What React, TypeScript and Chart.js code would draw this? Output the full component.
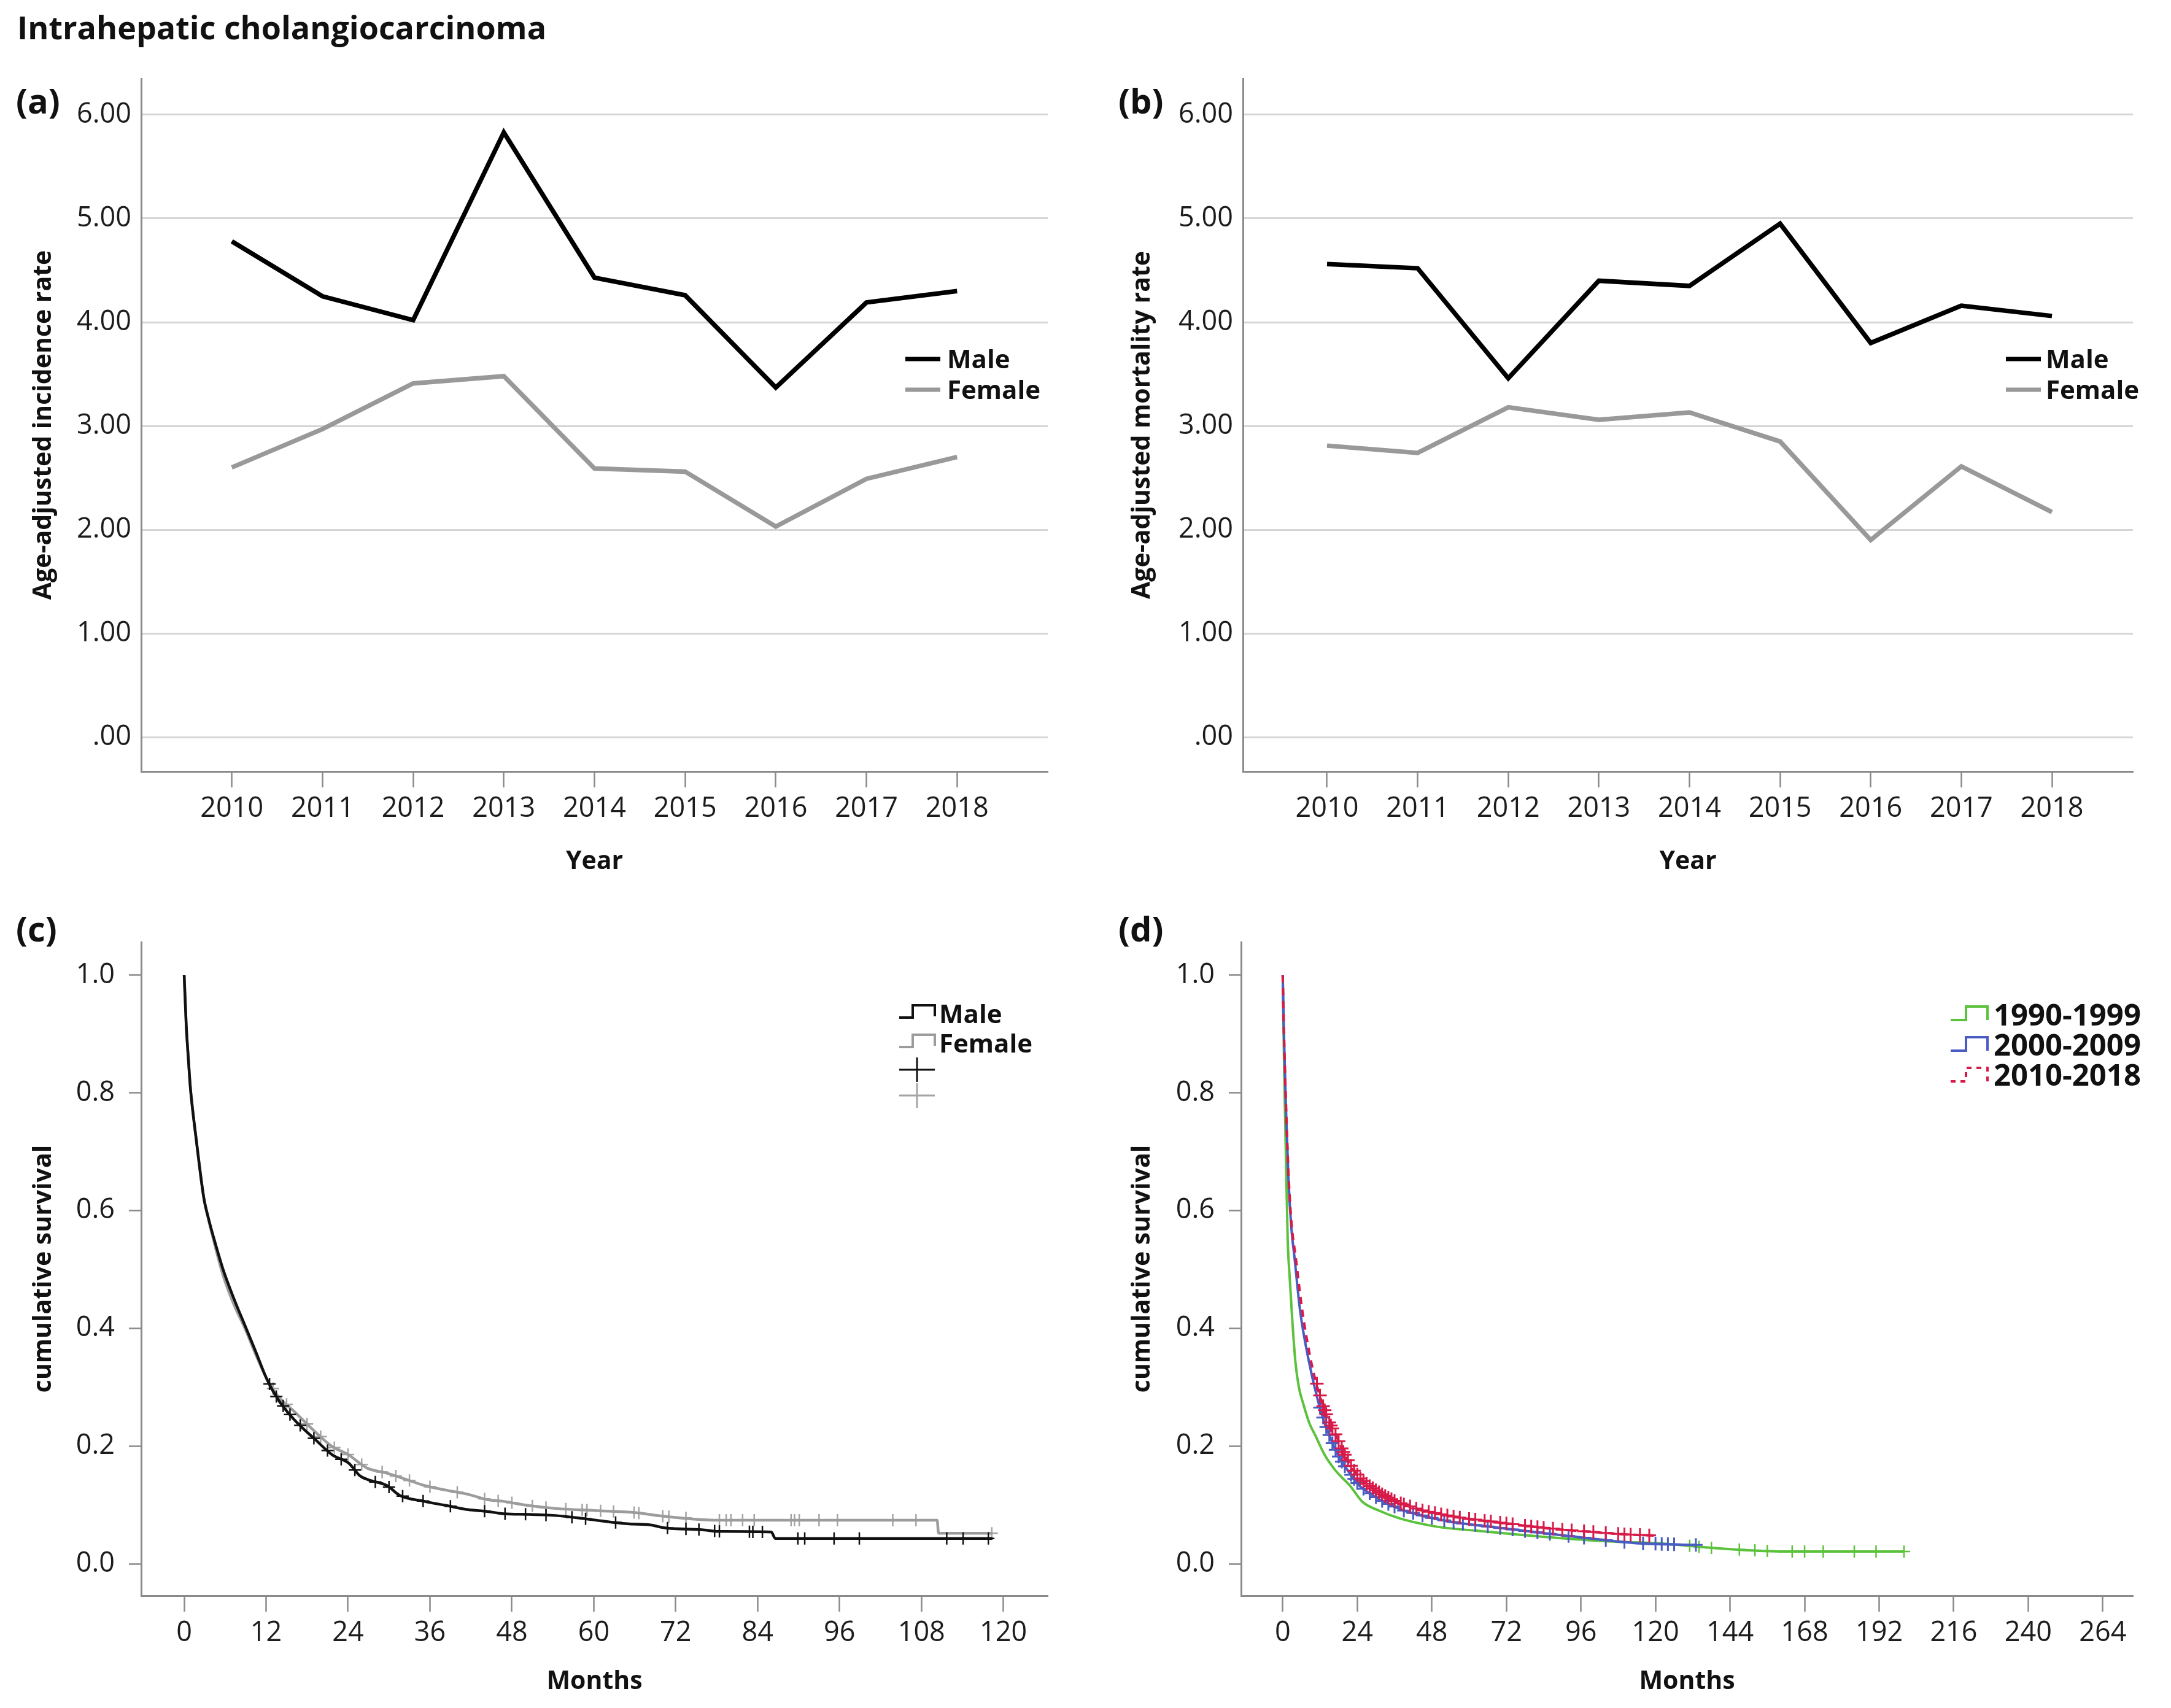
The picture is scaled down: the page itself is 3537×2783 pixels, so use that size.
import React, { useEffect, useRef } from 'react';
import { Chart, registerables } from 'chart.js';

Chart.register(...registerables);

const FONT = '"Open Sans", "DejaVu Sans", sans-serif';
const AXIS_GRAY = '#8a8a8a';
const TEXT = '#1c1c1c';

// ---------- panels (a) / (b) ----------
const YEARS = [2010, 2011, 2012, 2013, 2014, 2015, 2016, 2017, 2018];
const INCIDENCE_MALE = [4.78, 4.25, 4.02, 5.83, 4.43, 4.26, 3.37, 4.19, 4.30];
const INCIDENCE_FEMALE = [2.60, 2.97, 3.41, 3.48, 2.59, 2.56, 2.03, 2.49, 2.70];
const MORTALITY_MALE = [4.56, 4.52, 3.46, 4.40, 4.35, 4.95, 3.80, 4.16, 4.06];
const MORTALITY_FEMALE = [2.81, 2.74, 3.18, 3.06, 3.13, 2.85, 1.90, 2.61, 2.17];
const RATE_TICKS = [0, 1, 2, 3, 4, 5, 6];

// ---------- panel (c) : by sex ----------
const SEX_MONTH_TICKS = [0, 12, 24, 36, 48, 60, 72, 84, 96, 108, 120];
const MALE_KM_T = [0, 0.3, 0.6, 0.9, 1.3, 1.7, 2.3, 2.9, 3.6, 4.3, 5.7, 7.3, 8.9, 10.5, 12.1, 13.7, 16.1, 19.3, 21.7, 24.1, 25.7, 26.9, 29.7, 31.6, 35.2, 38.4, 41.6, 44.4, 46.8, 50.4, 54.4, 58.4, 61, 64.9, 68.3, 70.4, 75.8, 78.3, 86.0, 86.6, 118.4];
const MALE_KM_S = [1.0, 0.915, 0.86, 0.81, 0.765, 0.727, 0.67, 0.62, 0.585, 0.555, 0.5, 0.45, 0.405, 0.36, 0.314, 0.28, 0.245, 0.21, 0.185, 0.171, 0.15, 0.143, 0.133, 0.116, 0.106, 0.099, 0.092, 0.089, 0.085, 0.084, 0.082, 0.077, 0.073, 0.068, 0.066, 0.061, 0.058, 0.055, 0.054, 0.043, 0.043];
const FEMALE_KM_T = [0, 0.3, 0.6, 0.9, 1.3, 1.7, 2.3, 2.9, 3.6, 4.3, 5.7, 7.3, 8.9, 10.5, 12.1, 13.7, 16.1, 19.3, 21.7, 24.1, 25.7, 26.9, 29.7, 31.6, 35.2, 38.4, 41.6, 44.4, 46.8, 50.4, 54.4, 61, 66, 70, 78.3, 110.3, 110.5, 118.4];
const FEMALE_KM_S = [1.0, 0.915, 0.86, 0.81, 0.765, 0.727, 0.67, 0.62, 0.583, 0.55, 0.49, 0.44, 0.4, 0.355, 0.314, 0.285, 0.259, 0.223, 0.199, 0.185, 0.171, 0.162, 0.154, 0.147, 0.133, 0.125, 0.118, 0.109, 0.106, 0.099, 0.094, 0.09, 0.087, 0.081, 0.074, 0.074, 0.052, 0.052];
const MALE_CENSOR_T = [12.5, 13.5, 14.5, 15.5, 17, 19, 21, 23, 25, 28, 30, 32, 35, 39, 44, 47, 50, 53, 56.8, 58.8, 63.2, 70.8, 73.5, 75.4, 77.7, 78.4, 82.8, 83.3, 84.7, 89.9, 90.9, 95.2, 98.9, 111.7, 114.1, 117.8];
const FEMALE_CENSOR_T = [13, 15, 18, 20, 22, 24, 26, 29, 31, 33, 36, 40, 44, 46, 48, 51, 53, 55.9, 58.3, 59, 61, 62.9, 65.9, 66.6, 70.1, 71, 73.5, 78.4, 79.4, 80.1, 81.8, 83.5, 88.9, 89.4, 90.1, 93, 95.7, 103.8, 107.2, 118.3];

// ---------- panel (d) : by period ----------
const PERIOD_MONTH_TICKS = [0, 24, 48, 72, 96, 120, 144, 168, 192, 216, 240, 264];
const P1990_T = [0, 0.4, 1.0, 1.6, 2.2, 3.1, 4.1, 5.2, 6.6, 8.5, 10.6, 13.5, 16.6, 19, 21.6, 25.7, 30.7, 37.7, 49.7, 62.7, 85.8, 104.8, 120.8, 140.8, 160, 200];
const P1990_S = [1.0, 0.86, 0.7, 0.55, 0.49, 0.412, 0.342, 0.3, 0.272, 0.24, 0.217, 0.185, 0.161, 0.147, 0.133, 0.105, 0.091, 0.077, 0.063, 0.056, 0.045, 0.038, 0.035, 0.026, 0.021, 0.021];
const P2000_T = [0, 0.4, 1.0, 1.8, 2.8, 3.8, 5.6, 8.5, 11.6, 13.8, 16, 18.2, 20.6, 24.6, 28.5, 32.6, 38.7, 48.7, 57, 66.6, 77.8, 89, 100.8, 113.9, 133];
const P2000_S = [1.0, 0.9, 0.78, 0.66, 0.57, 0.52, 0.43, 0.342, 0.272, 0.235, 0.205, 0.18, 0.161, 0.133, 0.118, 0.105, 0.091, 0.077, 0.069, 0.063, 0.056, 0.049, 0.042, 0.035, 0.032];
const P2010_T = [0, 0.4, 1.0, 1.8, 2.8, 4.2, 6.3, 9.2, 12.7, 15, 17.2, 19.5, 22.6, 25, 27.7, 32, 36.7, 44.7, 51, 58.8, 70, 80.7, 90, 100, 110, 119.5];
const P2010_S = [1.0, 0.9, 0.79, 0.67, 0.58, 0.52, 0.43, 0.342, 0.272, 0.24, 0.218, 0.19, 0.161, 0.145, 0.133, 0.118, 0.105, 0.091, 0.084, 0.077, 0.07, 0.063, 0.058, 0.054, 0.05, 0.048];
const P1990_CENSOR_T = [131, 134, 138, 147, 152, 156, 164, 168, 174, 184, 191, 200];
const P2000_CENSOR_T = [12, 13, 14, 15, 16, 17, 18, 19, 20, 22, 23, 24, 26, 28, 30, 32, 34, 36, 39, 42, 45, 48, 52, 55, 58, 62, 66, 70, 74, 78, 82, 86, 92, 97, 104, 110, 116, 120, 122, 124, 126, 133];
const P2010_CENSOR_T = [11, 12, 13, 13.5, 14, 15, 15.5, 16, 17, 18, 19, 19.5, 20, 21, 22, 23, 24, 25, 26, 27, 28, 29, 30, 31, 32, 33, 34, 35, 36, 38, 39, 41, 43, 45, 47, 49, 51, 53, 55, 57, 60, 62, 65, 67, 70, 72, 74, 78, 80, 82, 84, 87, 90, 93, 97, 100, 104, 108, 110, 112, 115, 118];

const SURV_TICKS = [0, 0.2, 0.4, 0.6, 0.8, 1.0];

// ---------- helpers ----------
const pts = (xs: number[], ys: number[]) => xs.map((x, i) => ({ x, y: ys[i] }));

// value of the drawn survival curve at time t (censor marks sit on the curve)
function survivalAt(ts: number[], ss: number[], t: number) {
  for (let i = 1; i < ts.length; i++) {
    if (t <= ts[i]) {
      const f = (t - ts[i - 1]) / (ts[i] - ts[i - 1]);
      return ss[i - 1] + f * (ss[i] - ss[i - 1]);
    }
  }
  return ss[ss.length - 1];
}
const censorPts = (ct: number[], ts: number[], ss: number[]) => ct.map((t) => ({ x: t, y: survivalAt(ts, ss, t) }));

type Geo = { left: number; top: number; width: number; height: number; l: number; t: number; r: number; b: number };

const GEO_A: Geo = { left: 0, top: 0, width: 1770, height: 1450, l: 230, t: 128, r: 1707, b: 1257 };
const GEO_B: Geo = { left: 1790, top: 0, width: 1747, height: 1450, l: 2025, t: 128, r: 3475, b: 1257 };
const GEO_C: Geo = { left: 0, top: 1450, width: 1770, height: 1333, l: 230, t: 1535, r: 1707, b: 2600 };
const GEO_D: Geo = { left: 1790, top: 1450, width: 1747, height: 1333, l: 2022, t: 1535, r: 3475, b: 2600 };

const tickFont = { family: FONT, size: 45 };
const titleFont = { family: FONT, size: 41, weight: 'bold' as const };

function baseOptions(g: Geo) {
  return {
    animation: false,
    responsive: false,
    devicePixelRatio: 1,
    layout: { padding: { top: g.t - g.top, right: g.left + g.width - g.r, left: 0, bottom: 0 } },
    plugins: { legend: { display: false }, tooltip: { enabled: false }, title: { display: false } },
    elements: { point: { radius: 0 } },
  };
}

function xScale(g: Geo, min: number, max: number, ticks: number[], title: string, padBottom: number) {
  return {
    type: 'linear',
    min,
    max,
    afterBuildTicks: (s: any) => {
      s.ticks = ticks.map((v) => ({ value: v }));
    },
    afterFit: (s: any) => {
      s.height = g.top + g.height - g.b;
    },
    grid: { drawOnChartArea: false, drawTicks: true, tickLength: 26, tickColor: AXIS_GRAY, tickWidth: 2.5, color: AXIS_GRAY },
    border: { display: true, color: AXIS_GRAY, width: 3 },
    ticks: { font: tickFont, color: TEXT, padding: 8, maxRotation: 0, autoSkip: false, callback: (v: any) => String(v) },
    title: { display: true, text: title, font: titleFont, color: '#111', padding: { top: 0, bottom: padBottom } },
  };
}

function rateYScale(g: Geo, title: string) {
  return {
    type: 'linear',
    min: -0.331,
    max: 6.349,
    afterBuildTicks: (s: any) => {
      s.ticks = RATE_TICKS.map((v) => ({ value: v }));
    },
    afterFit: (s: any) => {
      s.width = g.l - g.left;
    },
    grid: { drawOnChartArea: true, drawTicks: false, color: '#d5d5d5', lineWidth: 3 },
    border: { display: true, color: AXIS_GRAY, width: 3 },
    ticks: { font: tickFont, color: TEXT, padding: 16, callback: (v: any) => (Number(v) === 0 ? '.00' : Number(v).toFixed(2)) },
    title: { display: true, text: title, font: titleFont, color: '#111', padding: { top: 47, bottom: 0 } },
  };
}

function survYScale(g: Geo) {
  return {
    type: 'linear',
    min: -0.0542,
    max: 1.0563,
    afterBuildTicks: (s: any) => {
      s.ticks = SURV_TICKS.map((v) => ({ value: v }));
    },
    afterFit: (s: any) => {
      s.width = g.l - g.left;
    },
    grid: { drawOnChartArea: false, drawTicks: true, tickLength: 20, tickColor: AXIS_GRAY, tickWidth: 2.5, color: AXIS_GRAY },
    border: { display: true, color: AXIS_GRAY, width: 3 },
    ticks: { font: tickFont, color: TEXT, padding: 23, callback: (v: any) => Number(v).toFixed(1) },
    title: { display: true, text: 'cumulative survival', font: titleFont, color: '#111', padding: { top: 47, bottom: 0 } },
  };
}

function rateLine(label: string, values: number[], color: string) {
  return {
    label,
    data: pts(YEARS, values),
    borderColor: color,
    backgroundColor: color,
    borderWidth: 7.5,
    pointRadius: 0,
    tension: 0,
    borderJoinStyle: 'miter',
    borderCapStyle: 'butt',
    fill: false,
  };
}

function kmLine(label: string, ts: number[], ss: number[], color: string, width: number, dash?: number[], order = 0) {
  return {
    label,
    data: pts(ts, ss),
    borderColor: color,
    backgroundColor: color,
    borderWidth: width,
    borderDash: dash || [],
    pointRadius: 0,
    cubicInterpolationMode: 'monotone',
    fill: false,
    order,
  };
}

function censorSet(label: string, ct: number[], ts: number[], ss: number[], color: string, radius: number, width: number, order = 0) {
  return {
    label,
    data: censorPts(ct, ts, ss),
    showLine: false,
    pointStyle: 'cross',
    pointRadius: radius,
    pointBorderWidth: width,
    pointBorderColor: color,
    borderColor: color,
    backgroundColor: color,
    order,
  };
}

function configA(g: Geo) {
  return {
    type: 'line',
    data: { datasets: [rateLine('Male', INCIDENCE_MALE, '#000000'), rateLine('Female', INCIDENCE_FEMALE, '#999999')] },
    options: {
      ...baseOptions(g),
      scales: { x: xScale(g, 2009.0, 2019.0, YEARS, 'Year', 21), y: rateYScale(g, 'Age-adjusted incidence rate') },
    },
  };
}

function configB(g: Geo) {
  return {
    type: 'line',
    data: { datasets: [rateLine('Male', MORTALITY_MALE, '#000000'), rateLine('Female', MORTALITY_FEMALE, '#999999')] },
    options: {
      ...baseOptions(g),
      scales: { x: xScale(g, 2009.072, 2018.894, YEARS, 'Year', 21), y: rateYScale(g, 'Age-adjusted mortality rate') },
    },
  };
}

function configC(g: Geo) {
  return {
    type: 'line',
    data: {
      datasets: [
        kmLine('Male', MALE_KM_T, MALE_KM_S, '#111111', 4.5, undefined, 1),
        kmLine('Female', FEMALE_KM_T, FEMALE_KM_S, '#9c9c9c', 4.5, undefined, 2),
        censorSet('Male censored', MALE_CENSOR_T, MALE_KM_T, MALE_KM_S, '#111111', 10, 2.5, 1),
        censorSet('Female censored', FEMALE_CENSOR_T, FEMALE_KM_T, FEMALE_KM_S, '#a4a4a4', 10, 2.5, 2),
      ],
    },
    options: {
      ...baseOptions(g),
      scales: { x: xScale(g, -6.3, 126.5, SEX_MONTH_TICKS, 'Months', 18), y: survYScale(g) },
    },
  };
}

function configD(g: Geo) {
  const green = '#5cc23c';
  const blue = '#4a5cc2';
  const red = '#d81a48';
  return {
    type: 'line',
    data: {
      datasets: [
        kmLine('1990-1999', P1990_T, P1990_S, green, 4, undefined, 3),
        kmLine('2000-2009', P2000_T, P2000_S, blue, 4, undefined, 2),
        kmLine('2010-2018', P2010_T, P2010_S, red, 4, [12, 9], 1),
        censorSet('1990-1999 censored', P1990_CENSOR_T, P1990_T, P1990_S, green, 10, 2.5, 3),
        censorSet('2000-2009 censored', P2000_CENSOR_T, P2000_T, P2000_S, blue, 11, 3, 2),
        censorSet('2010-2018 censored', P2010_CENSOR_T, P2010_T, P2010_S, red, 11, 3, 1),
      ],
    },
    options: {
      ...baseOptions(g),
      scales: { x: xScale(g, -13.4, 273.7, PERIOD_MONTH_TICKS, 'Months', 18), y: survYScale(g) },
    },
  };
}

function ChartPanel({ geo, make }: { geo: Geo; make: (g: Geo) => any }) {
  const ref = useRef<HTMLCanvasElement>(null);
  useEffect(() => {
    const chart = new Chart(ref.current as HTMLCanvasElement, make(geo));
    return () => chart.destroy();
  }, []);
  return (
    <canvas
      ref={ref}
      width={geo.width}
      height={geo.height}
      style={{ position: 'absolute', left: geo.left, top: geo.top, width: geo.width, height: geo.height }}
    />
  );
}

function Label({ text, left, cy, size, bold = true }: { text: string; left: number; cy: number; size: number; bold?: boolean }) {
  return (
    <div
      style={{
        position: 'absolute',
        left,
        top: cy - 0.53 * size,
        fontFamily: FONT,
        fontSize: size,
        lineHeight: `${size}px`,
        fontWeight: bold ? 700 : 400,
        color: '#111',
        whiteSpace: 'nowrap',
      }}
    >
      {text}
    </div>
  );
}

export default function App() {
  return (
    <div
      style={{
        position: 'absolute',
        left: 0,
        top: 0,
        width: 3537,
        height: 2783,
        background: '#ffffff',
        overflow: 'hidden',
      }}
    >
      <ChartPanel geo={GEO_A} make={configA} />
      <ChartPanel geo={GEO_B} make={configB} />
      <ChartPanel geo={GEO_C} make={configC} />
      <ChartPanel geo={GEO_D} make={configD} />

      <div
        style={{
          position: 'absolute',
          left: 28,
          top: 18,
          fontFamily: FONT,
          fontSize: 52,
          lineHeight: '52px',
          fontWeight: 700,
          color: '#111',
          whiteSpace: 'nowrap',
        }}
      >
        Intrahepatic cholangiocarcinoma
      </div>

      <Label text="(a)" left={26} cy={165} size={56} />
      <Label text="(b)" left={1822} cy={165} size={56} />
      <Label text="(c)" left={26} cy={1514} size={56} />
      <Label text="(d)" left={1822} cy={1514} size={56} />

      <svg
        width={3537}
        height={2783}
        style={{ position: 'absolute', left: 0, top: 0, pointerEvents: 'none' }}
      >
        {/* legend (a) */}
        <line x1={1475} y1={585} x2={1532} y2={585} stroke="#000" strokeWidth={7} />
        <line x1={1475} y1={635} x2={1532} y2={635} stroke="#999" strokeWidth={7} />
        {/* legend (b) */}
        <line x1={3268} y1={585} x2={3325} y2={585} stroke="#000" strokeWidth={7} />
        <line x1={3268} y1={635} x2={3325} y2={635} stroke="#999" strokeWidth={7} />
        {/* legend (c) */}
        <polyline points="1465,1658 1487,1658 1487,1638 1523,1638 1523,1656" fill="none" stroke="#111" strokeWidth={4} />
        <polyline points="1465,1706 1487,1706 1487,1686 1523,1686 1523,1704" fill="none" stroke="#9c9c9c" strokeWidth={4} />
        <line x1={1465} y1={1743} x2={1523} y2={1743} stroke="#111" strokeWidth={3} />
        <line x1={1494} y1={1723} x2={1494} y2={1763} stroke="#111" strokeWidth={3} />
        <line x1={1465} y1={1785} x2={1523} y2={1785} stroke="#a4a4a4" strokeWidth={3} />
        <line x1={1494} y1={1765} x2={1494} y2={1805} stroke="#a4a4a4" strokeWidth={3} />
        {/* legend (d) */}
        <polyline points="3178,1662 3203,1662 3203,1640 3238,1640 3238,1662" fill="none" stroke="#5cc23c" strokeWidth={4} />
        <polyline points="3178,1712 3203,1712 3203,1690 3238,1690 3238,1712" fill="none" stroke="#4a5cc2" strokeWidth={4} />
        <polyline points="3178,1762 3203,1762 3203,1740 3238,1740 3238,1762" fill="none" stroke="#d81a48" strokeWidth={4} strokeDasharray="8 8" />
      </svg>

      <Label text="Male" left={1543} cy={585} size={42} />
      <Label text="Female" left={1543} cy={635} size={42} />
      <Label text="Male" left={3333} cy={585} size={42} />
      <Label text="Female" left={3333} cy={635} size={42} />
      <Label text="Male" left={1530} cy={1652} size={42} />
      <Label text="Female" left={1530} cy={1700} size={42} />
      <Label text="1990-1999" left={3248} cy={1654} size={49} />
      <Label text="2000-2009" left={3248} cy={1703} size={49} />
      <Label text="2010-2018" left={3248} cy={1752} size={49} />
    </div>
  );
}
